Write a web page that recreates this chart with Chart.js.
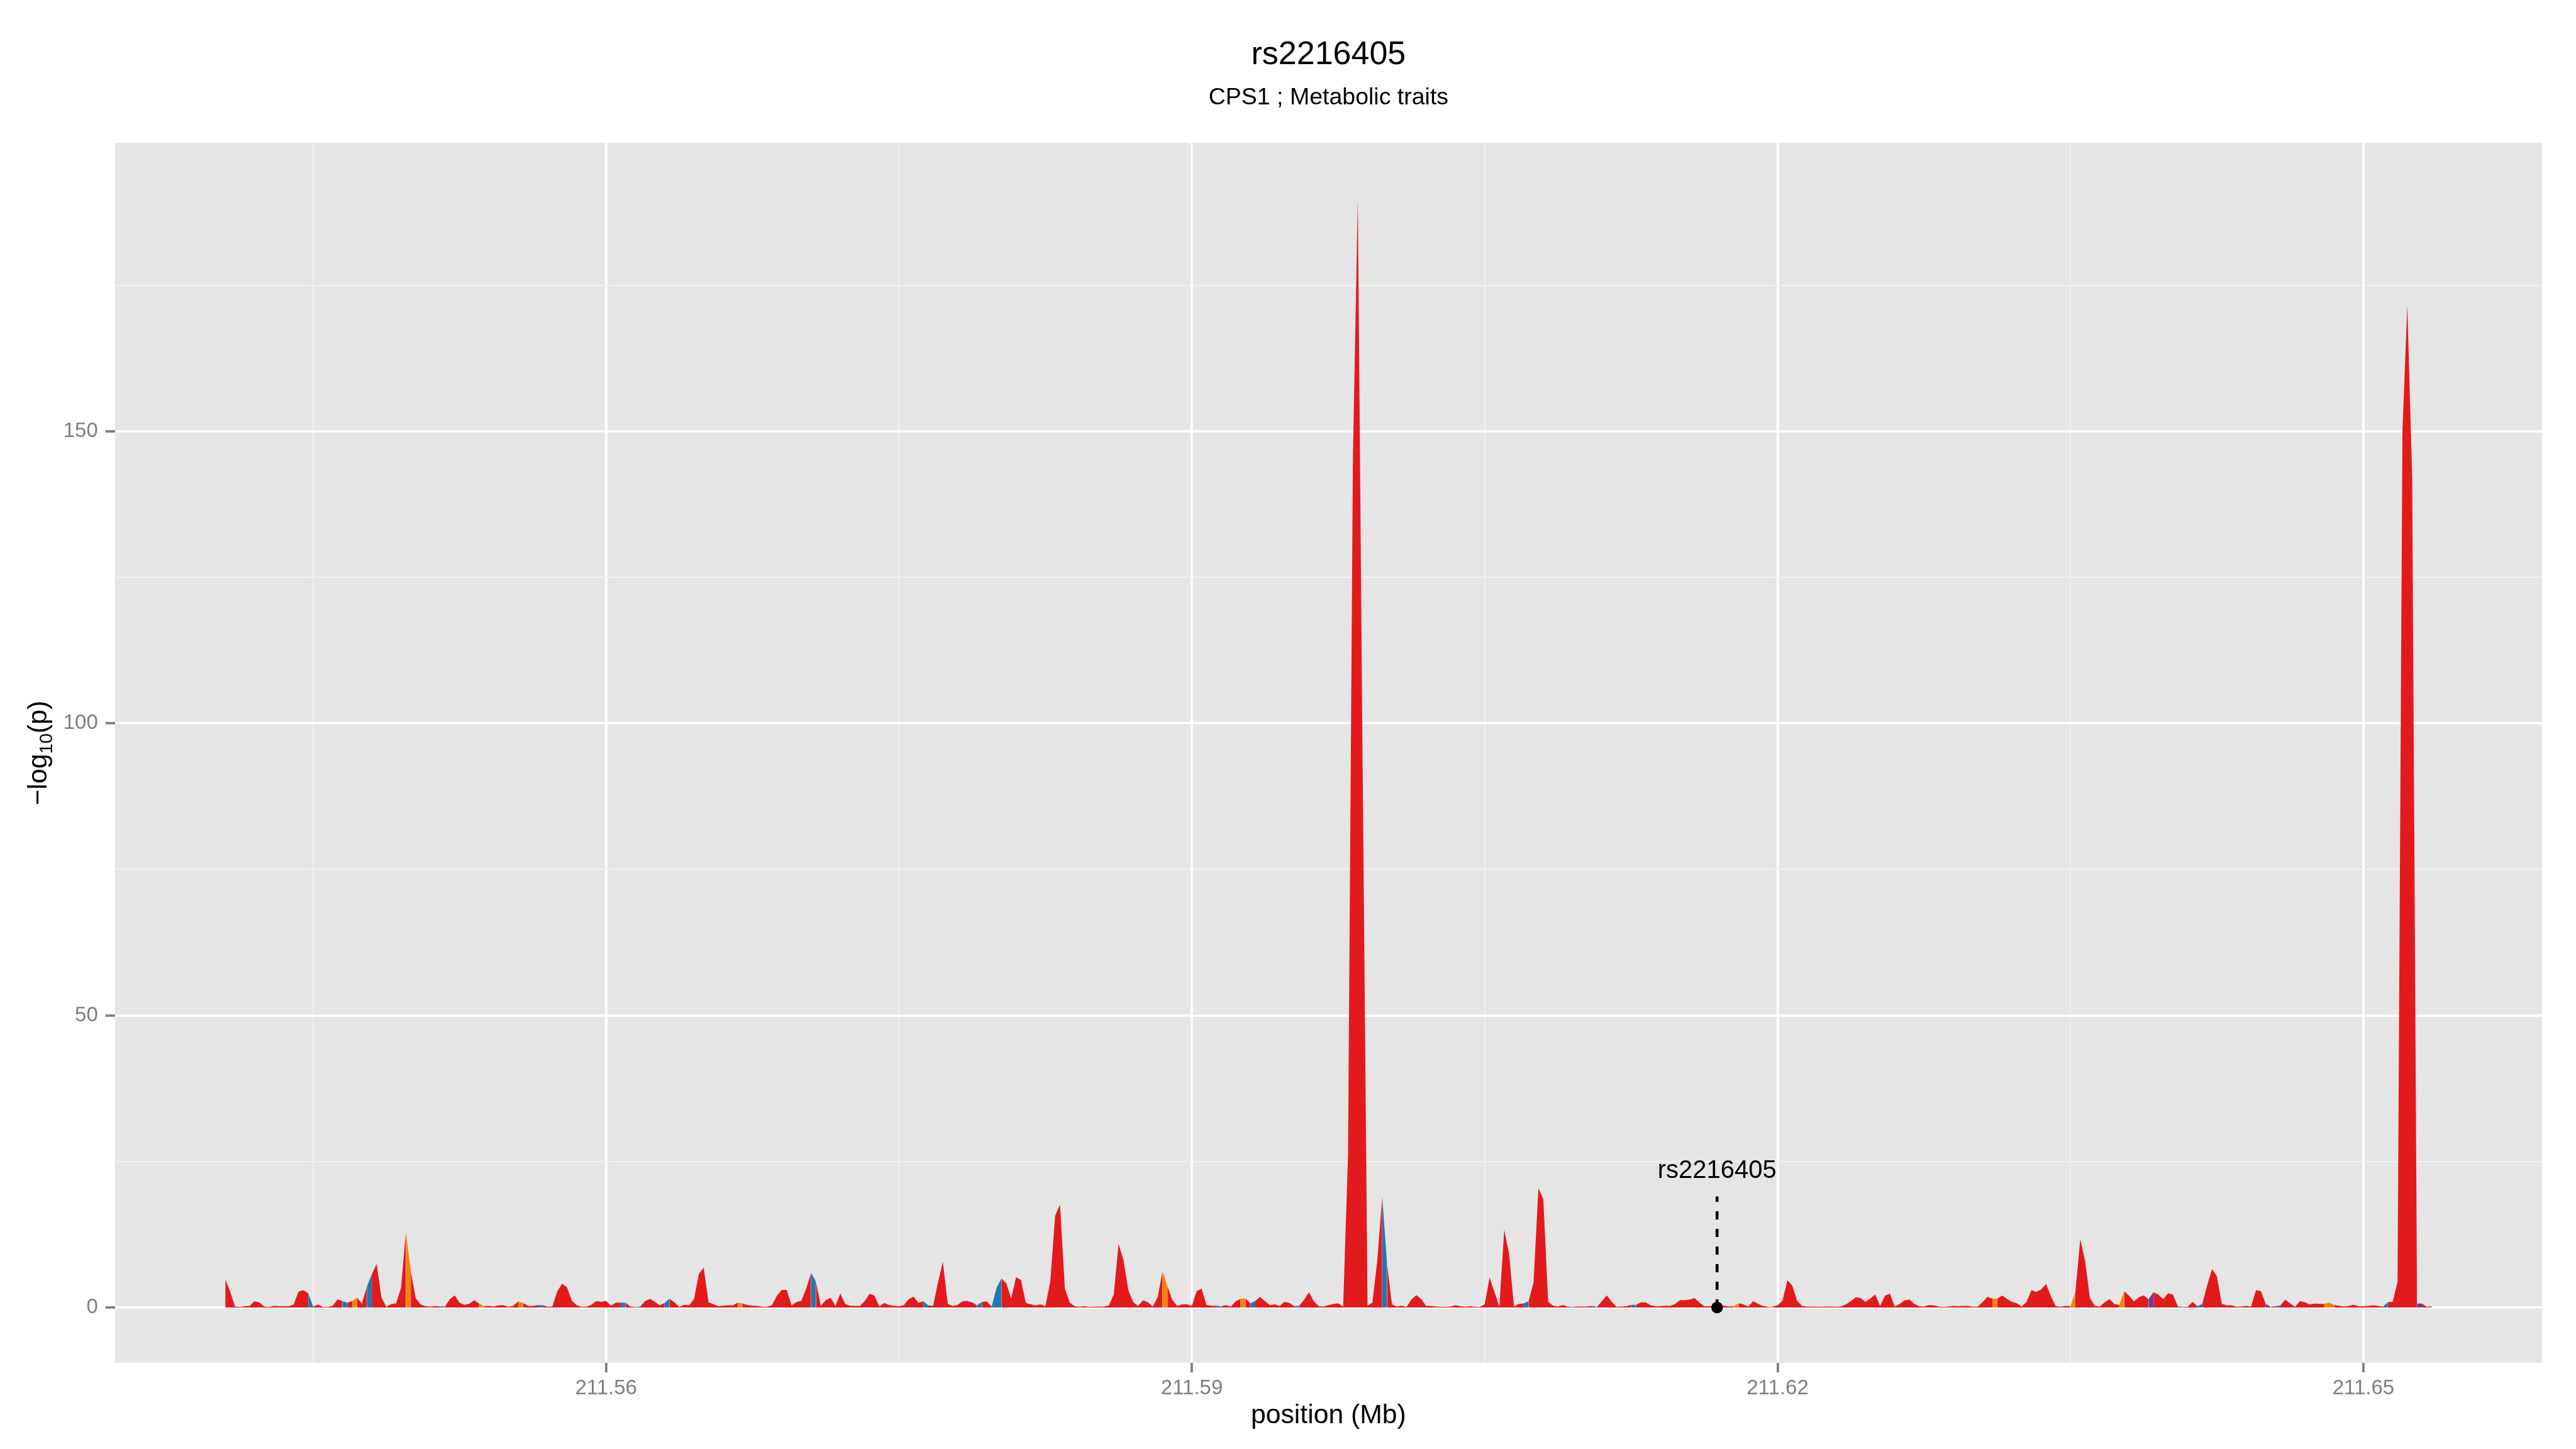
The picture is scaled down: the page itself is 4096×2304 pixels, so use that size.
<!DOCTYPE html>
<html><head><meta charset="utf-8">
<script src="https://cdn.jsdelivr.net/npm/chart.js@4.4.1/dist/chart.umd.min.js"></script>
<style>html,body{margin:0;padding:0;background:#fff;overflow:hidden}canvas{display:block}</style>
</head><body>
<canvas id="c" width="4096" height="2304" style="width:4096px;height:2304px"></canvas>
<script>
const titleText = 'rs2216405';
const subtitleText = 'CPS1 ; Metabolic traits';
const xAxisTitle = 'position (Mb)';
const yAxisTitleParts = ['\u2212log', '10', '(p)'];

// positions: regular 250 bp grid starting at 211.5405 Mb
const positionStartMb = 211.5405;
const positionStepMb = 0.00025;

// -log10(p), one per grid position
const logP = [
4.8,2.7,0.15,0.1,0.2,0.25,1.07,0.85,0.15,0.1,0.27,0.2,0.2,0.2,0.5,2.7,2.96,2.44,0.15,0.5,
0.1,0.1,0.25,1.4,1.1,0.8,1.1,1.7,0.67,3.57,5.64,7.47,1.68,0.1,0.58,0.7,3.35,13.0,6.25,1.6,
0.52,0.2,0.15,0.2,0.2,0.15,1.43,2.07,0.8,0.46,0.64,1.22,0.67,0.2,0.25,0.15,0.37,0.37,0.12,0.25,
1.04,0.76,0.25,0.27,0.4,0.4,0.12,0.15,2.74,4.05,3.45,1.16,0.37,0.1,0.12,0.46,1.1,0.95,1.13,0.3,
0.82,0.82,0.8,0.15,0.1,0.15,1.07,1.46,0.95,0.37,0.76,1.5,0.88,0.1,0.46,0.37,1.37,5.7,6.83,0.88,
0.55,0.2,0.3,0.37,0.34,0.82,0.67,0.4,0.3,0.25,0.12,0.12,0.4,2.0,3.0,3.0,0.37,0.9,1.13,3.2,
5.95,4.4,0.3,1.22,1.65,0.25,2.38,0.58,0.3,0.25,0.25,1.1,2.35,2.0,0.15,0.76,0.4,0.3,0.2,0.37,
1.43,1.86,0.8,1.07,0.37,0.25,4.27,7.84,0.6,0.25,0.43,1.04,1.13,0.85,0.37,0.95,1.04,0.15,3.35,4.97,
4.1,1.52,5.18,4.7,0.76,0.55,0.34,0.52,0.2,4.4,15.7,17.6,3.2,0.82,0.2,0.12,0.2,0.1,0.12,0.15,
0.15,0.34,2.2,10.9,8.1,2.96,0.9,0.27,1.22,0.88,0.15,1.74,6.25,3.66,1.28,0.27,0.52,0.55,0.27,2.8,
3.23,0.43,0.3,0.3,0.2,0.4,0.15,1.07,1.46,1.55,0.7,1.13,1.8,1.07,0.4,0.52,0.25,0.95,0.76,0.2,
0.3,1.3,2.6,1.07,0.2,0.15,0.4,0.6,0.7,0.15,26,145.4,189.9,92,0.3,0.82,8.1,19.05,7.47,0.52,
0.15,0.3,0.1,1.37,2.13,1.43,0.25,0.25,0.15,0.12,0.1,0.15,0.37,0.2,0.12,0.2,0.12,0.1,0.52,5.12,
2.6,0.2,13.3,9.15,0.15,0.6,0.7,1.07,4.27,20.4,18.6,1.0,0.3,0.15,0.4,0.15,0.1,0.15,0.15,0.15,
0.3,0.1,1.07,2.07,1.0,0.12,0.15,0.2,0.46,0.46,0.88,0.85,0.37,0.2,0.2,0.3,0.25,0.58,1.25,1.25,
1.34,1.6,0.82,0.2,0.2,0.25,0.43,0.3,0.15,0.2,0.73,0.52,0.15,1.07,0.6,0.25,0.12,0.15,0.37,1.16,
4.66,3.75,1.13,0.27,0.15,0.15,0.12,0.12,0.15,0.15,0.12,0.15,0.52,1.07,1.74,1.6,0.95,1.52,2.23,0.25,
2.0,2.35,0.15,0.6,1.19,1.37,0.6,0.2,0.15,0.4,0.37,0.15,0.1,0.15,0.27,0.2,0.25,0.27,0.12,0.15,
0.9,1.83,1.5,1.5,2.04,1.46,0.97,0.73,0.15,0.97,2.96,2.65,3.1,4.0,1.9,0.2,0.12,0.25,0.2,2.6,
11.7,7.9,1.52,0.3,0.15,0.88,1.43,0.58,0.43,2.8,2.0,1.04,1.74,2.07,1.43,2.6,2.2,1.43,2.44,2.2,
0.15,0.12,0.1,0.95,0.2,0.6,3.8,6.6,5.33,0.6,0.37,0.37,0.12,0.15,0.27,0.15,2.96,2.8,0.6,0.1,
0.2,0.34,1.34,0.7,0.1,1.1,0.9,0.49,0.67,0.6,0.6,0.82,0.4,0.3,0.15,0.25,0.46,0.2,0.2,0.27,
0.37,0.27,0.12,0.9,0.97,4.4,150,171.6,142,0.67,0.67,0.1,0.2
];

// trait category of the segment that starts at each index (all others: red)
const blueSegments = [17,24,29,44,64,81,84,90,120,143,154,157,158,203,210,219,237,266,275,280,288,400,404,420,442];
const orangeSegments = [26,37,52,60,105,192,208,309,316,362,378,388,430,431];
const purpleSegments = [394,418,449];

const categoryColors = {red:'#E31A1C', blue:'#1F78B4', orange:'#FF7F00', purple:'#6A3D9A'};

const xMajorTicks = [211.56, 211.59, 211.62, 211.65];
const xMinorTicks = [211.545, 211.575, 211.605, 211.635];
const yMajorTicks = [0, 50, 100, 150];
const yMinorTicks = [25, 75, 125, 175];
const xRange = [211.53485, 211.65915];
const yRange = [-9.495, 199.395];

const snpPosition = 211.6169;
const snpLabel = 'rs2216405';
const snpLineTop = 19;
const snpLabelBaseline = 22.2;

const FONT = '"Liberation Sans", Arial, Helvetica, sans-serif';

const positions = logP.map((_, i) => positionStartMb + i * positionStepMb);
const areaData = logP.map((v, i) => ({x: positions[i], y: v}));

function segColor(i) {
  if (blueSegments.includes(i)) return categoryColors.blue;
  if (orangeSegments.includes(i)) return categoryColors.orange;
  if (purpleSegments.includes(i)) return categoryColors.purple;
  return categoryColors.red;
}

const bgPlugin = {
  id: 'bg',
  beforeDraw(chart) {
    const {ctx, chartArea: a} = chart;
    ctx.save();
    ctx.fillStyle = '#FFFFFF';
    ctx.fillRect(0, 0, chart.width, chart.height);
    ctx.fillStyle = '#E5E5E5';
    ctx.fillRect(a.left, a.top, a.right - a.left, a.bottom - a.top);
    ctx.restore();
  }
};

const textPlugin = {
  id: 'texts',
  afterDraw(chart) {
    const {ctx, chartArea: a} = chart;
    const xs = chart.scales.x, ys = chart.scales.y;
    const cx = (a.left + a.right) / 2;
    ctx.save();
    ctx.fillStyle = '#000000';
    ctx.textAlign = 'center';
    ctx.textBaseline = 'alphabetic';
    ctx.font = '52px ' + FONT;
    ctx.fillText(titleText, cx, 102.4);
    ctx.font = '37.5px ' + FONT;
    ctx.fillText(subtitleText, cx, 166.3);
    ctx.font = '42.7px ' + FONT;
    ctx.fillText(xAxisTitle, cx, 2263);
    // snp label
    ctx.font = '40px ' + FONT;
    ctx.fillText(snpLabel, xs.getPixelForValue(snpPosition), ys.getPixelForValue(snpLabelBaseline));
    // y axis title with subscript
    const cy = (a.top + a.bottom) / 2;
    ctx.translate(74, cy);
    ctx.rotate(-Math.PI / 2);
    ctx.textAlign = 'left';
    const mainF = '42.7px ' + FONT, subF = '29px ' + FONT;
    ctx.font = mainF; const w1 = ctx.measureText(yAxisTitleParts[0]).width;
    const w3 = ctx.measureText(yAxisTitleParts[2]).width;
    ctx.font = subF; const w2 = ctx.measureText(yAxisTitleParts[1]).width;
    let x0 = -(w1 + w2 + w3) / 2;
    ctx.font = mainF; ctx.fillText(yAxisTitleParts[0], x0, 0); x0 += w1;
    ctx.font = subF; ctx.fillText(yAxisTitleParts[1], x0, 9); x0 += w2;
    ctx.font = mainF; ctx.fillText(yAxisTitleParts[2], x0, 0);
    ctx.restore();
  }
};

new Chart(document.getElementById('c'), {
  type: 'line',
  data: {
    datasets: [
      {
        type: 'scatter', data: [{x: snpPosition, y: 0}], order: 1,
        pointRadius: 9.2, pointBackgroundColor: '#000', pointBorderWidth: 0, pointBorderColor: '#000'
      },
      {
        type: 'line', data: [{x: snpPosition, y: 0}, {x: snpPosition, y: snpLineTop}], order: 2,
        borderColor: '#000', borderWidth: 4.6, borderDash: [13, 15], pointRadius: 0, fill: false
      },
      {
        type: 'line', data: areaData, order: 3,
        borderColor: 'rgba(0,0,0,0)', borderWidth: 0, pointRadius: 0, tension: 0,
        backgroundColor: categoryColors.red, fill: 'origin',
        segment: { backgroundColor: c => segColor(c.p0DataIndex) }
      }
    ]
  },
  options: {
    responsive: false, animation: false, devicePixelRatio: 1,
    layout: { padding: { left: 0, right: 54, top: 227.2, bottom: 0 } },
    plugins: { legend: {display: false}, tooltip: {enabled: false}, title: {display: false} },
    scales: {
      x: {
        type: 'linear', min: xRange[0], max: xRange[1],
        afterBuildTicks: s => { s.ticks = xMajorTicks.concat(xMinorTicks).sort((a,b)=>a-b).map(v => ({value: v})); },
        afterFit: s => { s.height = 136.9; },
        ticks: {
          autoSkip: false, maxRotation: 0, minRotation: 0, padding: 5.5, color: '#7F7F7F',
          font: {family: FONT, size: 33},
          callback: v => xMajorTicks.includes(v) ? v.toFixed(2) : ''
        },
        grid: {
          color: c => (c.tick && xMajorTicks.includes(c.tick.value)) ? '#FFFFFF' : '#F2F2F2',
          lineWidth: c => (c.tick && xMajorTicks.includes(c.tick.value)) ? 3.8 : 1.9,
          tickColor: c => (c.tick && xMajorTicks.includes(c.tick.value)) ? '#7F7F7F' : 'rgba(0,0,0,0)',
          tickWidth: 3.8, tickLength: 15.1
        },
        border: {display: false}
      },
      y: {
        type: 'linear', min: yRange[0], max: yRange[1],
        afterBuildTicks: s => { s.ticks = yMajorTicks.concat(yMinorTicks).sort((a,b)=>a-b).map(v => ({value: v})); },
        afterFit: s => { s.width = 182.8; },
        ticks: {
          autoSkip: false, padding: 11.9, color: '#7F7F7F',
          font: {family: FONT, size: 33},
          callback: v => yMajorTicks.includes(v) ? String(v) : ''
        },
        grid: {
          color: c => (c.tick && yMajorTicks.includes(c.tick.value)) ? '#FFFFFF' : '#F2F2F2',
          lineWidth: c => (c.tick && yMajorTicks.includes(c.tick.value)) ? 3.8 : 1.9,
          tickColor: c => (c.tick && yMajorTicks.includes(c.tick.value)) ? '#7F7F7F' : 'rgba(0,0,0,0)',
          tickWidth: 3.8, tickLength: 15.1
        },
        border: {display: false}
      }
    }
  },
  plugins: [bgPlugin, textPlugin]
});
</script>
</body></html>
